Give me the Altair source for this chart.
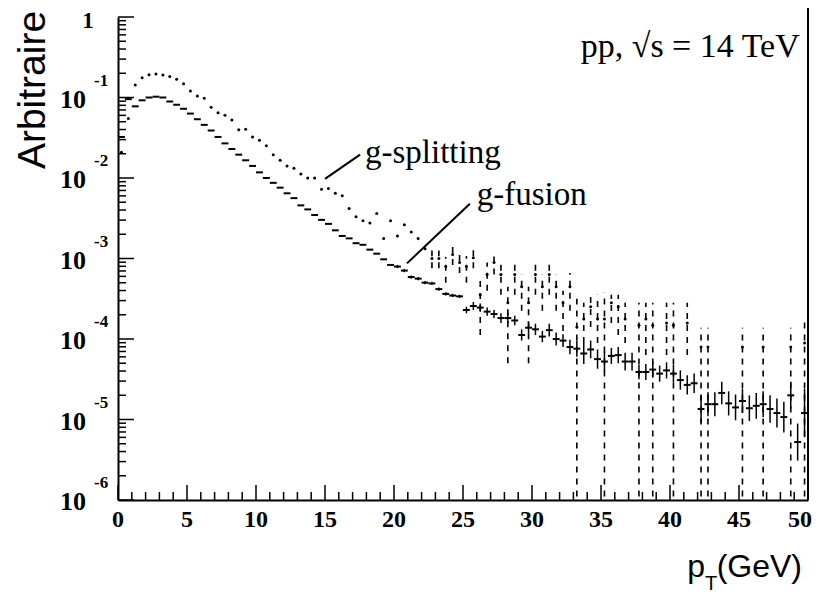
import altair as alt
import pandas as pd

# ---------------- data ----------------
# bin centres (GeV), 0.5 GeV bins
fusion_pt = [
    0.25, 0.75, 1.25, 1.75, 2.25, 2.75, 3.25, 3.75, 4.25, 4.75,
    5.25, 5.75, 6.25, 6.75, 7.25, 7.75, 8.25, 8.75, 9.25, 9.75,
    10.25, 10.75, 11.25, 11.75, 12.25, 12.75, 13.25, 13.75, 14.25, 14.75,
    15.25, 15.75, 16.25, 16.75, 17.25, 17.75, 18.25, 18.75, 19.25, 19.75,
    20.25, 20.75, 21.25, 21.75, 22.25, 22.75, 23.25, 23.75, 24.25, 24.75,
    25.25, 25.75, 26.25, 26.75, 27.25, 27.75, 28.25, 28.75, 29.25, 29.75,
    30.25, 30.75, 31.25, 31.75, 32.25, 32.75, 33.25, 33.75, 34.25, 34.75,
    35.25, 35.75, 36.25, 36.75, 37.25, 37.75, 38.25, 38.75, 39.25, 39.75,
    40.25, 40.75, 41.25, 41.75, 42.25, 42.75, 43.25, 43.75, 44.25, 44.75,
    45.25, 45.75, 46.25, 46.75, 47.25, 47.75, 48.25, 48.75, 49.25, 49.75,
]
# g-fusion: log10 of bin content
fusion_log = [
    -1.49, -1.02, -1.11, -1.035, -1.00, -0.99, -1.00, -1.05, -1.09, -1.14,
    -1.20, -1.27, -1.34, -1.41, -1.49, -1.57, -1.64, -1.71, -1.78, -1.85,
    -1.93, -2.00, -2.06, -2.12, -2.19, -2.25, -2.34, -2.39, -2.46, -2.52,
    -2.57, -2.65, -2.72, -2.75, -2.81, -2.83, -2.89, -2.94, -3.01, -3.08,
    -3.10, -3.15, -3.23, -3.25, -3.30, -3.31, -3.38, -3.44, -3.46, -3.47,
    -3.64, -3.59, -3.61, -3.66, -3.69, -3.74, -3.74, -3.77, -3.95, -3.86,
    -3.88, -3.97, -3.89, -4.00, -4.02, -4.10, -4.12, -4.18, -4.13, -4.25,
    -4.28, -4.21, -4.20, -4.28, -4.28, -4.41, -4.41, -4.38, -4.43, -4.39,
    -4.43, -4.51, -4.57, -4.55, -4.87, -4.81, -4.81, -4.67, -4.80, -4.85,
    -4.77, -4.86, -4.83, -4.81, -4.87, -4.92, -4.97, -4.70, -5.28, -4.92,
]
# g-fusion: half length of the error bar, in decades
fusion_err = [
    0, 0, 0, 0, 0, 0, 0, 0, 0, 0,
    0, 0, 0, 0, 0, 0, 0, 0, 0, 0,
    0, 0, 0, 0, 0, 0, 0, 0, 0, 0,
    0, 0, 0, 0, 0, 0, 0, 0, 0, 0,
    0.02, 0.02, 0.02, 0.02, 0.02, 0.02, 0.02, 0.02, 0.02, 0.02,
    0.04, 0.05, 0.05, 0.05, 0.05, 0.06, 0.06, 0.06, 0.07, 0.07,
    0.07, 0.07, 0.08, 0.08, 0.08, 0.09, 0.10, 0.13, 0.11, 0.12,
    0.12, 0.10, 0.10, 0.11, 0.11, 0.09, 0.10, 0.10, 0.10, 0.10,
    0.11, 0.12, 0.12, 0.12, 0.17, 0.15, 0.15, 0.14, 0.15, 0.16,
    0.15, 0.16, 0.16, 0.16, 0.17, 0.18, 0.19, 0.17, 0.23, 0.30,
]

# g-splitting, low pT (no visible error bars)
split_pt = [
    0.25, 0.75, 1.25, 1.75, 2.25, 2.75, 3.25, 3.75, 4.25, 4.75,
    5.25, 5.75, 6.25, 6.75, 7.25, 7.75, 8.25, 8.75, 9.25, 9.75,
    10.25, 10.75, 11.25, 11.75, 12.25, 12.75, 13.25, 13.75, 14.25, 14.75,
    15.25, 15.75, 16.25, 16.75, 17.25, 17.75, 18.25, 18.75, 19.25, 19.75,
    20.25, 20.75, 21.25, 21.75, 22.25,
]
split_log = [
    -1.68, -1.26, -0.845, -0.754, -0.717, -0.708, -0.72, -0.74, -0.774, -0.83,
    -0.92, -0.98, -1.01, -1.12, -1.19, -1.22, -1.28, -1.40, -1.395, -1.49,
    -1.53, -1.60, -1.71, -1.78, -1.85, -1.88, -1.95, -2.00, -2.00, -2.14,
    -2.13, -2.19, -2.22, -2.38, -2.48, -2.53, -2.56, -2.44, -2.75, -2.53,
    -2.72, -2.58, -2.67, -2.75, -2.88,
]
# g-splitting, high pT (points with dashed error bars; -7 = below the frame)
split_hi_pt = [
    22.75, 23.25, 23.75, 24.25, 24.75, 25.25, 25.75, 26.25, 26.75, 27.25,
    27.75, 28.25, 28.75, 29.25, 29.75, 30.25, 30.75, 31.25, 31.75, 32.25,
    32.75, 33.25, 33.75, 34.25, 34.75, 35.25, 35.75, 36.25, 36.75, 37.75,
    38.25, 38.75, 39.75, 40.25, 41.25, 42.25, 42.75, 45.25, 46.75, 48.75,
    49.75,
]
split_hi_log = [
    -3.00, -3.00, -3.10, -2.95, -3.05, -3.10, -2.99, -3.45, -3.20, -3.05,
    -3.20, -3.55, -3.20, -3.35, -3.55, -3.20, -3.35, -3.20, -3.35, -3.55,
    -3.35, -3.85, -3.75, -3.60, -3.75, -3.75, -3.55, -3.60, -3.75, -3.83,
    -3.75, -3.83, -3.80, -3.83, -3.80, -4.10, -4.10, -4.10, -4.10, -4.10,
    -4.05,
]
split_hi_top = [
    -2.90, -2.90, -2.98, -2.85, -2.93, -2.97, -2.88, -3.25, -3.05, -2.95,
    -3.05, -3.35, -3.05, -3.20, -3.35, -3.05, -3.20, -3.05, -3.20, -3.40,
    -3.18, -3.50, -3.55, -3.45, -3.45, -3.42, -3.45, -3.45, -3.55, -3.55,
    -3.55, -3.55, -3.55, -3.55, -3.55, -3.86, -3.86, -3.86, -3.86, -3.86,
    -3.76,
]
split_hi_bot = [
    -3.12, -3.12, -3.30, -3.08, -3.18, -3.30, -3.12, -3.95, -3.40, -3.20,
    -3.45, -4.30, -3.45, -3.65, -4.30, -3.45, -3.65, -3.45, -3.65, -3.90,
    -3.65, -7, -4.05, -3.85, -4.05, -7, -3.80, -3.95, -4.05, -7,
    -4.20, -7, -4.20, -7, -4.20, -7, -7, -7, -7, -7,
    -7,
]

# axis ticks and labels
x_major = [0, 5, 10, 15, 20, 25, 30, 35, 40, 45, 50]
x_minor = [1, 2, 3, 4, 6, 7, 8, 9, 11, 12, 13, 14, 16, 17, 18, 19, 21, 22, 23, 24,
           26, 27, 28, 29, 31, 32, 33, 34, 36, 37, 38, 39, 41, 42, 43, 44, 46, 47, 48, 49]
y_decades = [1, 1e-1, 1e-2, 1e-3, 1e-4, 1e-5, 1e-6]
y_mantissas = [2, 3, 4, 5, 6, 7, 8, 9]
y_label_vals = [1e-1, 1e-2, 1e-3, 1e-4, 1e-5, 1e-6]
y_label_exp = ["-1", "-2", "-3", "-4", "-5", "-6"]

# annotations (data coordinates)
ann_text = ["g-splitting", "g-fusion"]
ann_x = [17.9, 26.0]
ann_y = [0.0155, 0.00457]
lead_x1 = [15.0, 20.94]
lead_y1 = [0.00977, 0.00087]
lead_x2 = [17.54, 25.5]
lead_y2 = [0.0195, 0.00479]
energy_text = ["pp,  \u221as = 14 TeV"]
energy_x = [49.4]
energy_y = [0.318]

# ---------------- tables ----------------
W, H = 690, 483
HALF = 0.25
fus = pd.DataFrame({"pt": fusion_pt, "lg": fusion_log, "e": fusion_err})
fus["val"] = 10 ** fus["lg"]
fus["x0"] = fus["pt"] - HALF
fus["x1"] = fus["pt"] + HALF
fus["lo"] = 10 ** (fus["lg"] - fus["e"])
fus["hi"] = 10 ** (fus["lg"] + fus["e"])
fus_err = fus[fus["e"] > 0]

spl = pd.DataFrame({"pt": split_pt + split_hi_pt,
                    "val": [10 ** v for v in split_log + split_hi_log]})
spl_err = pd.DataFrame({"pt": split_hi_pt,
                        "lo": [10 ** v for v in split_hi_bot],
                        "hi": [10 ** v for v in split_hi_top]})

xmaj = pd.DataFrame({"v": x_major, "t": [str(v) for v in x_major]})
xlab_main = xmaj[xmaj["v"] < 50]
xlab_last = xmaj[xmaj["v"] == 50]
xmin = pd.DataFrame({"v": x_minor})
ymaj = pd.DataFrame({"v": y_decades})
ymin = pd.DataFrame({"v": [m * d for d in y_decades[1:] for m in y_mantissas]})
ylab = pd.DataFrame({"v": y_label_vals, "e": y_label_exp})
ytop = pd.DataFrame({"v": [1], "t": ["1"]})
ann = pd.DataFrame({"x": ann_x, "y": ann_y, "t": ann_text})
lead = pd.DataFrame({"x1": lead_x1, "y1": lead_y1, "x2": lead_x2, "y2": lead_y2})
energy = pd.DataFrame({"x": energy_x, "y": energy_y, "t": energy_text})
frame = pd.DataFrame({"v": [50]})

# ---------------- scales / axes ----------------
SERIF = "Liberation Serif"
SANS = "Liberation Sans"

xs = alt.Scale(domain=[0, 50], nice=False, zero=False)
ys = alt.Scale(type="log", domain=[1e-6, 1], nice=False)
x_axis = alt.Axis(labels=False, ticks=False, grid=False, domainColor="black",
                  domainWidth=2)
y_axis = alt.Axis(labels=False, ticks=False, grid=False, domainColor="black",
                  domainWidth=2)


def X(f):
    return alt.X(f, type="quantitative", scale=xs, axis=x_axis, title=None)


def Y(f):
    return alt.Y(f, type="quantitative", scale=ys, axis=y_axis, title=None)


# ---------------- layers ----------------
fus_dash = alt.Chart(fus).mark_rule(color="black", strokeWidth=2).encode(
    x=X("x0"), x2="x1:Q", y=Y("val"))
fus_bar = alt.Chart(fus_err).mark_rule(color="black", strokeWidth=1.5, clip=True).encode(
    x=X("pt"), y=Y("lo"), y2="hi:Q")
spl_bar = alt.Chart(spl_err).mark_rule(color="black", strokeWidth=1.6,
                                       strokeDash=[6, 6], clip=True).encode(
    x=X("pt"), y=Y("lo"), y2="hi:Q")
spl_dot = alt.Chart(spl).mark_circle(color="black", size=9, opacity=1).encode(
    x=X("pt"), y=Y("val"))

tick_xmaj = alt.Chart(xmaj).mark_rule(color="black", strokeWidth=1.5).encode(
    x=X("v"), y=alt.value(H), y2=alt.value(H - 15))
tick_xmin = alt.Chart(xmin).mark_rule(color="black", strokeWidth=1.5).encode(
    x=X("v"), y=alt.value(H), y2=alt.value(H - 8))
tick_ymaj = alt.Chart(ymaj).mark_rule(color="black", strokeWidth=1.5).encode(
    y=Y("v"), x=alt.value(0), x2=alt.value(16))
tick_ymin = alt.Chart(ymin).mark_rule(color="black", strokeWidth=1.5).encode(
    y=Y("v"), x=alt.value(0), x2=alt.value(8))
right_edge = alt.Chart(frame).mark_rule(color="black", strokeWidth=2).encode(
    x=X("v"), y=alt.value(-17), y2=alt.value(H))

xlab1 = alt.Chart(xlab_main).mark_text(font=SERIF, fontWeight="bold", fontSize=24,
                                       align="center", baseline="middle",
                                       color="black").encode(
    x=X("v"), y=alt.value(H + 20), text="t:N")
xlab2 = alt.Chart(xlab_last).mark_text(font=SERIF, fontWeight="bold", fontSize=24,
                                       align="center", baseline="middle", dx=-8,
                                       color="black").encode(
    x=X("v"), y=alt.value(H + 20), text="t:N")

ylab_base = alt.Chart(ylab).mark_text(font=SERIF, fontWeight="bold", fontSize=26,
                                      align="right", baseline="middle", dy=2,
                                      color="black").encode(
    y=Y("v"), x=alt.value(-32), text=alt.value("10"))
ylab_exp = alt.Chart(ylab).mark_text(font=SERIF, fontWeight="bold", fontSize=17,
                                     align="left", baseline="middle", dy=-17,
                                     color="black").encode(
    y=Y("v"), x=alt.value(-24), text="e:N")
ylab_top = alt.Chart(ytop).mark_text(font=SERIF, fontWeight="bold", fontSize=23,
                                     align="center", baseline="middle", dy=4,
                                     color="black").encode(
    y=Y("v"), x=alt.value(-30), text="t:N")

ann_txt = alt.Chart(ann).mark_text(font=SERIF, fontSize=33, align="left",
                                   baseline="alphabetic", color="black").encode(
    x=X("x"), y=Y("y"), text="t:N")
ann_line = alt.Chart(lead).mark_rule(color="black", strokeWidth=2).encode(
    x=X("x1"), y=Y("y1"), x2="x2:Q", y2="y2:Q")
energy_txt = alt.Chart(energy).mark_text(font=SERIF, fontSize=34, align="right",
                                         baseline="alphabetic", color="black").encode(
    x=X("x"), y=Y("y"), text="t:N")

title_y = alt.Chart(frame).mark_text(font=SANS, fontSize=39, angle=270, align="center",
                                     baseline="middle", color="black").encode(
    x=alt.value(-85), y=alt.value(73), text=alt.value("Arbitraire"))
title_p = alt.Chart(frame).mark_text(font=SANS, fontSize=32, align="right",
                                     baseline="alphabetic", color="black").encode(
    x=alt.value(587), y=alt.value(560), text=alt.value("p"))
title_t = alt.Chart(frame).mark_text(font=SANS, fontSize=20, align="left",
                                     baseline="alphabetic", color="black").encode(
    x=alt.value(587), y=alt.value(573), text=alt.value("T"))
title_gev = alt.Chart(frame).mark_text(font=SANS, fontSize=32, align="right",
                                       baseline="alphabetic", color="black").encode(
    x=alt.value(684), y=alt.value(560), text=alt.value("(GeV)"))

chart = alt.layer(
    fus_dash, fus_bar, spl_bar, spl_dot,
    tick_xmaj, tick_xmin, tick_ymaj, tick_ymin, right_edge,
    xlab1, xlab2, ylab_base, ylab_exp, ylab_top,
    ann_txt, ann_line, energy_txt,
    title_y, title_p, title_t, title_gev,
).properties(
    width=W, height=H,
    autosize=alt.AutoSizeParams(type="none"),
    padding={"left": 110, "top": 9, "right": 5, "bottom": 97},
    background="white",
).configure_view(stroke="transparent")

chart.save("out.html", embed_options={"renderer": "svg", "actions": False})
